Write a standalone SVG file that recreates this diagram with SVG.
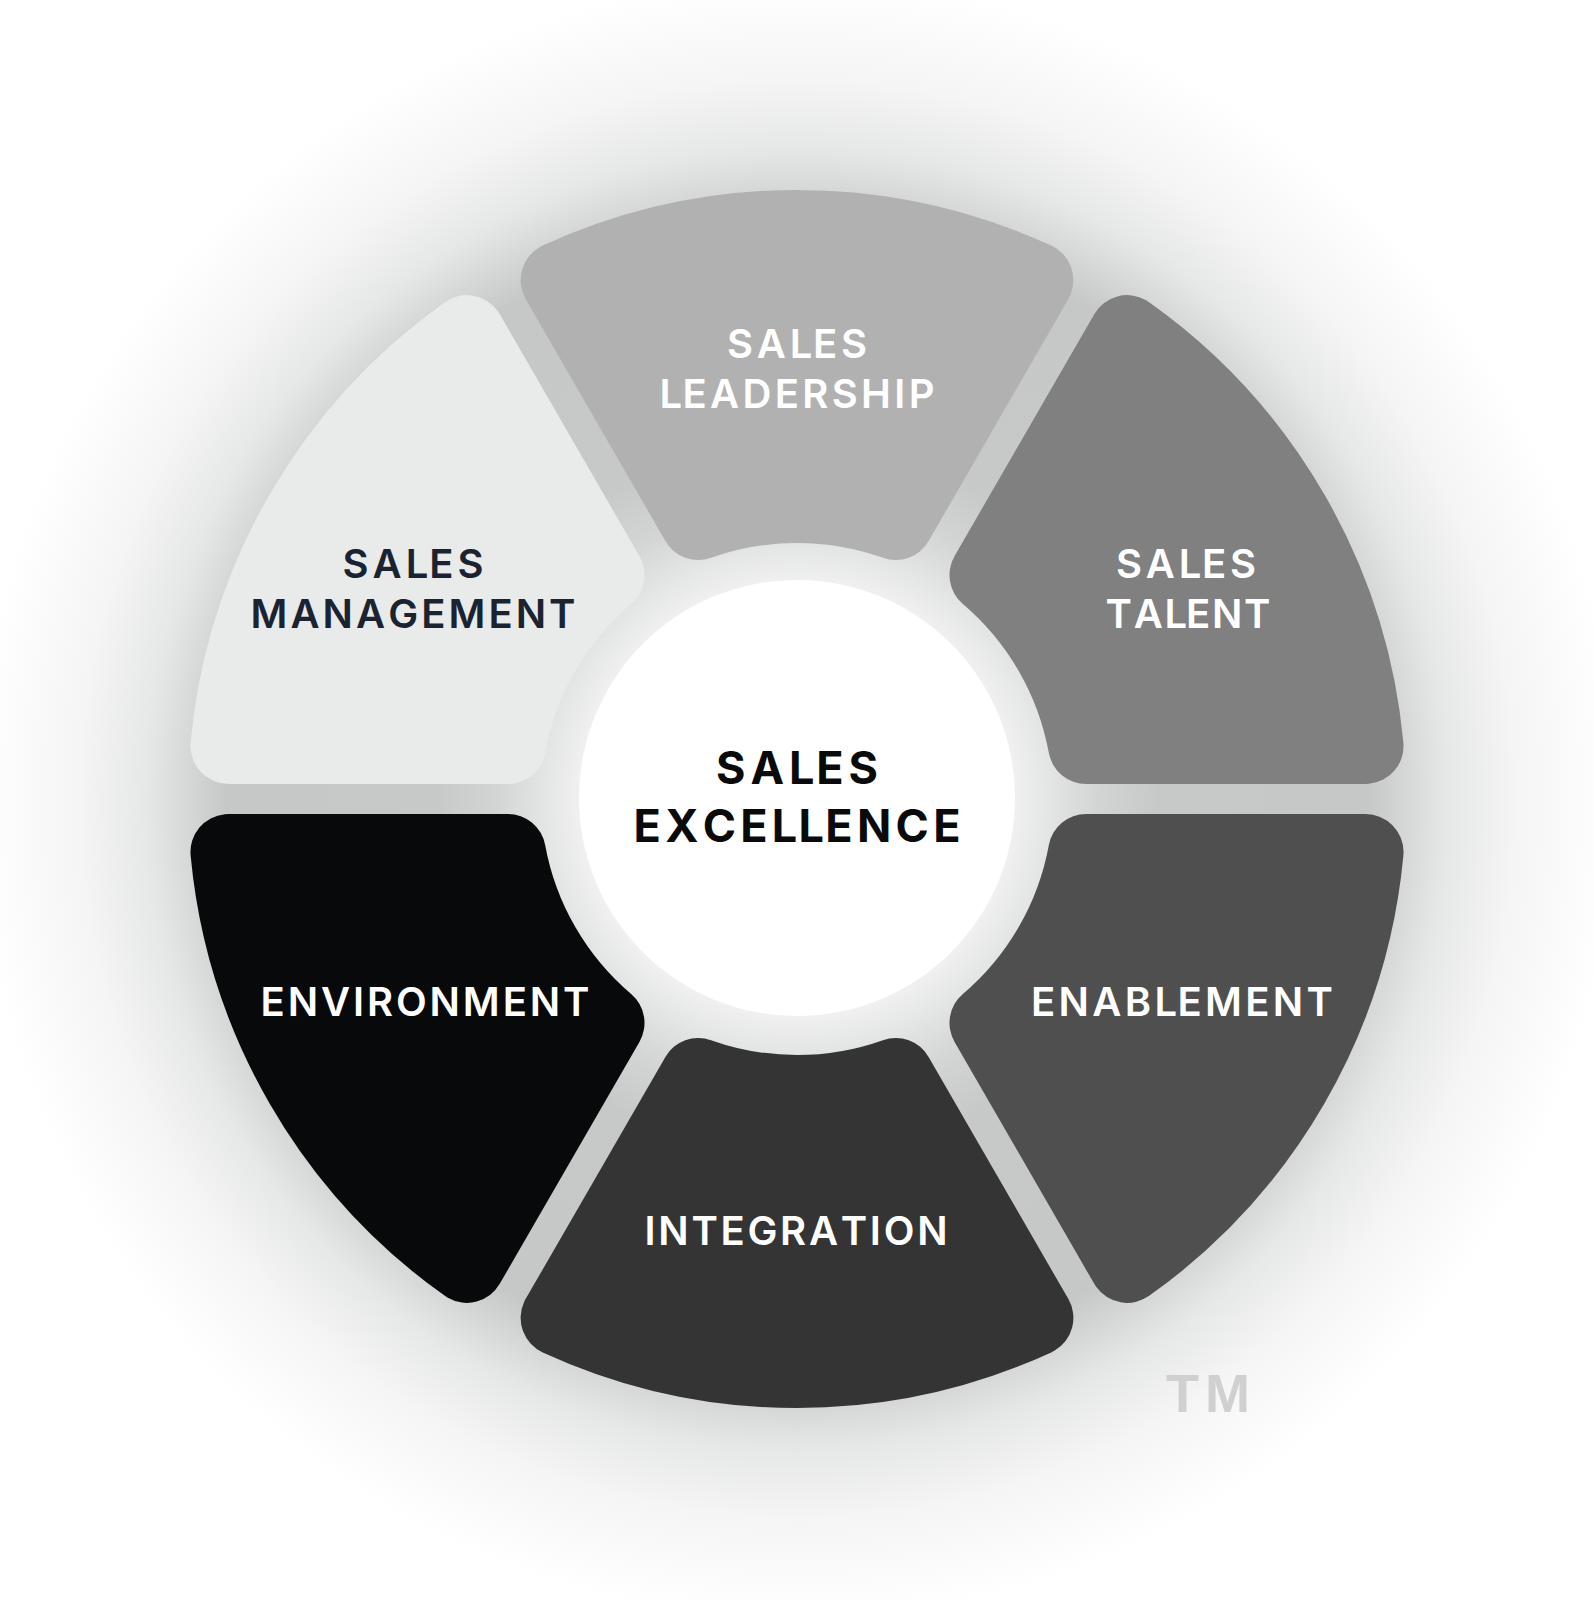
<svg xmlns="http://www.w3.org/2000/svg" width="1594" height="1600" viewBox="0 0 1594 1600">
  <defs>
    <radialGradient id="halo" cx="797" cy="799" r="820" gradientUnits="userSpaceOnUse">
      <stop offset="0" stop-color="#ffffff"/>
      <stop offset="0.266" stop-color="#f0f0f0"/>
      <stop offset="0.30" stop-color="#e6e7e7"/>
      <stop offset="0.366" stop-color="#d3d4d4"/>
      <stop offset="0.44" stop-color="#c7c9c8"/>
      <stop offset="0.695" stop-color="#c6c8c7"/>
      <stop offset="0.744" stop-color="#d6d7d7"/>
      <stop offset="0.793" stop-color="#e6e7e7"/>
      <stop offset="0.878" stop-color="#f5f5f5"/>
      <stop offset="1" stop-color="#ffffff"/>
    </radialGradient>
    <path id="segShape" d="M-98.69,-276.94 L-238.37,-518.87 A571,571 0 0 1 238.37,-518.87 L98.69,-276.94 A294,294 0 0 0 -98.69,-276.94 Z"/>
  </defs>
  <style>
    .seg use { stroke-width: 76; stroke-linejoin: round; }
    text { font-kerning: none; font-variant-ligatures: none; }
    .lbl { font-family: Inter, "Liberation Sans", sans-serif; font-weight: 600; font-size: 40px; text-anchor: middle; }
    .light { fill: #ffffff; }
    .dark { fill: #1b2330; }
    .core { font-family: Inter, "Liberation Sans", sans-serif; font-weight: 700; font-size: 45px; text-anchor: middle; fill: #0a0a0a; }
    .tm { font-family: "Liberation Sans", Arial, sans-serif; font-weight: 700; font-size: 54px; text-anchor: middle; fill: #d0d0d0; }
  </style>

  <rect x="0" y="0" width="1594" height="1600" fill="#ffffff"/>
  <circle id="backdrop" cx="797" cy="799" r="820" fill="url(#halo)"/>

  <g id="sales-leadership" class="seg">
    <use href="#segShape" transform="translate(797,799) rotate(0)" fill="#b1b1b1" stroke="#b1b1b1"/>
    <text class="lbl light" x="797" y="358" dx="0 0 0 -3" textLength="140" lengthAdjust="spacing">SALES</text>
    <text class="lbl light" x="797" y="408" dx="0 -3" textLength="275" lengthAdjust="spacing">LEADERSHIP</text>
  </g>

  <g id="sales-talent" class="seg">
    <use href="#segShape" transform="translate(797,799) rotate(60)" fill="#808080" stroke="#808080"/>
    <text class="lbl light" x="1186" y="578" dx="0 0 0 -3" textLength="140" lengthAdjust="spacing">SALES</text>
    <text class="lbl light" x="1188" y="628" dx="0 0 0 -3" textLength="165" lengthAdjust="spacing">TALENT</text>
  </g>

  <g id="enablement" class="seg">
    <use href="#segShape" transform="translate(797,799) rotate(120)" fill="#4f4f4f" stroke="#4f4f4f"/>
    <text class="lbl light" x="1182" y="1016" dx="0 0 0 0 0 -3" textLength="302" lengthAdjust="spacing">ENABLEMENT</text>
  </g>

  <g id="integration" class="seg">
    <use href="#segShape" transform="translate(797,799) rotate(180)" fill="#343434" stroke="#343434"/>
    <text class="lbl light" x="796" y="1245" textLength="303" lengthAdjust="spacing">INTEGRATION</text>
  </g>

  <g id="environment" class="seg">
    <use href="#segShape" transform="translate(797,799) rotate(240)" fill="#08090b" stroke="#08090b"/>
    <text class="lbl light" x="425" y="1016" textLength="329" lengthAdjust="spacing">ENVIRONMENT</text>
  </g>

  <g id="sales-management" class="seg">
    <use href="#segShape" transform="translate(797,799) rotate(300)" fill="#e9eaea" stroke="#e9eaea"/>
    <text class="lbl dark" x="413" y="578" dx="0 0 0 -3" textLength="141" lengthAdjust="spacing">SALES</text>
    <text class="lbl dark" x="413" y="628" textLength="325" lengthAdjust="spacing">MANAGEMENT</text>
  </g>

  <g id="sales-excellence">
    <circle cx="797" cy="798" r="218" fill="#ffffff"/>
    <text class="core" x="797" y="784" dx="0 0 0 -3" textLength="162" lengthAdjust="spacing">SALES</text>
    <text class="core" x="797" y="842" dx="0 0 0 0 0 -3 -3" textLength="327" lengthAdjust="spacing">EXCELLENCE</text>
  </g>

  <g id="connectors"></g>

  <text class="tm" x="1208" y="1412" textLength="84" lengthAdjust="spacing">TM</text>
</svg>
